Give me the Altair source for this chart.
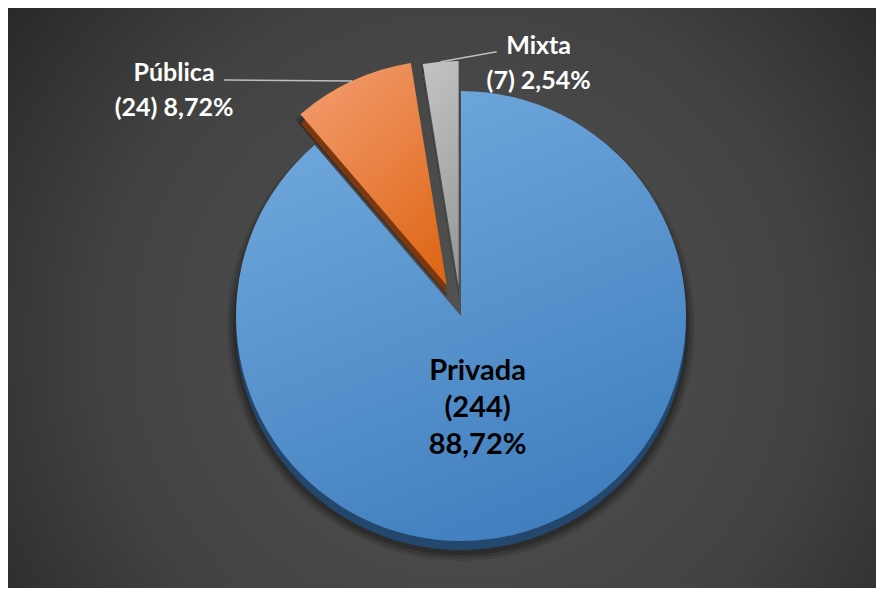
import altair as alt
import pandas as pd

# ---- data ----
categories = ["Privada", "Pública", "Mixta"]
counts = [244, 24, 7]
pct_labels = ["88,72%", "8,72%", "2,54%"]
label_texts = ["Privada\n(244)\n88,72%", "Pública\n(24) 8,72%", "Mixta\n(7) 2,54%"]

df = pd.DataFrame({
    "cat": categories,
    "n": counts,
    "pct": pct_labels,
    "label": label_texts,
    "order": list(range(len(categories))),
})

# ---- layout / style ----
W, H = 868, 580
CX, CY, R = 453, 308, 225
DEPTH = 9
EXPLODE = {"Privada": 0, "Pública": 34, "Mixta": 30}


def lin(c0, c1, x1=0.3, y1=0.0, x2=0.7, y2=1.0):
    return alt.LinearGradient(
        gradient="linear",
        stops=[alt.GradientStop(offset=0, color=c0), alt.GradientStop(offset=1, color=c1)],
        x1=x1, y1=y1, x2=x2, y2=y2,
    )


TOP_FILL = {
    "Privada": lin("#70a8dd", "#3f7dbd"),
    "Pública": lin("#f29a6c", "#df6818", 0.2, 0.0, 0.8, 1.0),
    "Mixta": lin("#c4c4c4", "#9c9c9c", 0.0, 0.0, 0.2, 1.0),
}
SIDE_FILL = {"Privada": "#24476e", "Pública": "#7a3710", "Mixta": "#4e4e4e"}

base = (
    alt.Chart(df)
    .transform_window(cum="sum(n)", sort=[alt.SortField(field="order", order="ascending")], frame=[None, 0])
    .transform_joinaggregate(total="sum(n)")
    .transform_calculate(
        t0="(datum.cum - datum.n) / datum.total * 2 * PI",
        t1="datum.cum / datum.total * 2 * PI",
    )
    .transform_calculate(mid="(datum.t0 + datum.t1) / 2")
)


def slice_layer(cat, fill, dy=0, radius=R, opacity=1.0):
    e = EXPLODE[cat]
    return (
        base.transform_filter(alt.datum.cat == cat)
        .transform_calculate(
            cx=f"{CX} + {e} * sin(datum.mid)",
            cy=f"{CY} - {e} * cos(datum.mid) + {dy}",
        )
        .mark_arc(radius=radius, fill=fill, opacity=opacity)
        .encode(
            theta=alt.Theta("t0:Q", scale=None),
            theta2=alt.Theta2("t1:Q"),
            x=alt.X("cx:Q", scale=None),
            y=alt.Y("cy:Q", scale=None),
        )
    )


background = alt.Chart(df).mark_rect(
    fill=alt.RadialGradient(
        gradient="radial",
        stops=[
            alt.GradientStop(offset=0, color="#535353"),
            alt.GradientStop(offset=0.55, color="#424242"),
            alt.GradientStop(offset=1, color="#1e1e1e"),
        ],
        x1=0.52, y1=0.55, r1=0, x2=0.52, y2=0.55, r2=0.75,
    )
).encode(x=alt.value(0), x2=alt.value(W), y=alt.value(0), y2=alt.value(H))

layers = [background]
# soft shadow
for extra, op in [(9, 0.10), (6, 0.14), (3, 0.2)]:
    for cat in categories:
        layers.append(slice_layer(cat, "#000000", dy=DEPTH + 2, radius=R + extra, opacity=op))
# 3D sides
for cat in categories:
    layers.append(slice_layer(cat, SIDE_FILL[cat], dy=DEPTH))
# top faces
for cat in categories:
    layers.append(slice_layer(cat, TOP_FILL[cat]))

# leader lines and outside labels
LEADER = {"Pública": (-128, -1), "Mixta": (56, -10)}
TEXT_OFF = {"Pública": (-50, 1), "Mixta": (42, 2)}
for cat in ["Pública", "Mixta"]:
    e = EXPLODE[cat]
    lx, ly = LEADER[cat]
    tx, ty = TEXT_OFF[cat]
    pts = base.transform_filter(alt.datum.cat == cat).transform_calculate(
        sx=f"{CX} + {e + R} * sin(datum.mid)",
        sy=f"{CY} - {e + R} * cos(datum.mid)",
    ).transform_calculate(
        ex=f"datum.sx + {lx}",
        ey=f"datum.sy + {ly}",
    ).transform_calculate(
        tx=f"datum.ex + {tx}",
        ty=f"datum.ey + {ty}",
    )
    layers.append(
        pts.mark_rule(color="#bfbfbf", strokeWidth=1.5).encode(
            x=alt.X("sx:Q", scale=None), y=alt.Y("sy:Q", scale=None),
            x2="ex:Q", y2="ey:Q",
        )
    )
    layers.append(
        pts.mark_text(
            font="Lato", fontWeight="bold", fontSize=25, color="#ffffff",
            align="center", baseline="alphabetic", lineBreak="\n", lineHeight=35,
        ).encode(x=alt.X("tx:Q", scale=None), y=alt.Y("ty:Q", scale=None), text="label:N")
    )

# inside label
inside = base.transform_filter(alt.datum.cat == "Privada").transform_calculate(
    tx=f"{CX} + 68 * sin(datum.mid) - 7",
    ty=f"{CY} - 68 * cos(datum.mid)",
)
layers.append(
    inside.mark_text(
        font="Lato", fontWeight="bold", fontSize=29, color="#000000",
        align="center", baseline="alphabetic", lineBreak="\n", lineHeight=37,
    ).encode(x=alt.X("tx:Q", scale=None), y=alt.Y("ty:Q", scale=None), text="label:N")
)

chart = (
    alt.layer(*layers)
    .properties(width=W, height=H, padding=0, autosize=alt.AutoSizeParams(type="none"))
    .configure_view(strokeWidth=0)
)

chart.save("out.html", embed_options={"renderer": "svg", "actions": False})
